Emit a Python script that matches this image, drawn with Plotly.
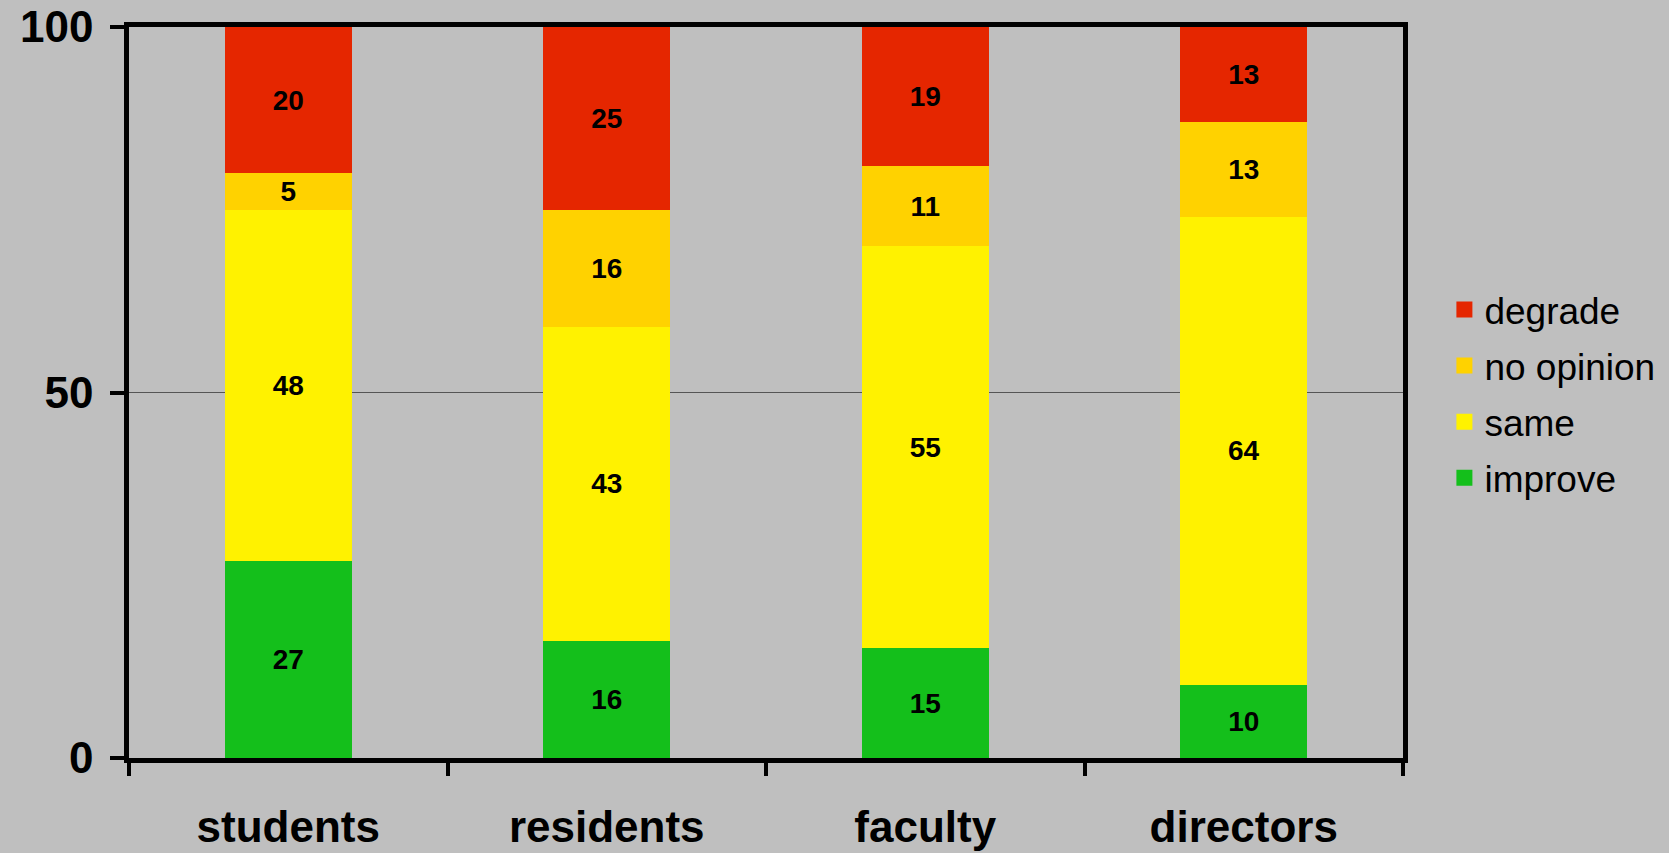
import plotly.graph_objects as go

groups = ["students", "residents", "faculty", "directors"]
improve = [27, 16, 15, 10]
same = [48, 43, 55, 64]
no_opinion = [5, 16, 11, 13]
degrade = [20, 25, 19, 13]

series = [
    ("improve", improve, "#14BF1B"),
    ("same", same, "#FFF200"),
    ("no opinion", no_opinion, "#FFD200"),
    ("degrade", degrade, "#E52600"),
]

FONT = "Liberation Sans, Arial, sans-serif"

fig = go.Figure()
for name, vals, color in series:
    fig.add_trace(go.Bar(
        x=groups, y=vals, name=name,
        marker=dict(color=color, line=dict(width=0)),
        text=[str(v) for v in vals],
        textposition="inside", insidetextanchor="middle", textangle=0,
        textfont=dict(family=FONT, size=28, color="black", weight="bold"),
        showlegend=False,
    ))

# legend entries with larger square swatches
for name, vals, color in reversed(series):
    fig.add_trace(go.Scatter(
        x=[None], y=[None], mode="markers", name=name, legendgroup=name,
        marker=dict(symbol="square", size=19, color=color),
        showlegend=True,
    ))

fig.update_layout(
    width=1669, height=853,
    margin=dict(l=129, r=266, t=27, b=95, autoexpand=False),
    paper_bgcolor="#BFBFBF", plot_bgcolor="#BFBFBF",
    barmode="stack", bargap=0.6,
    uniformtext=dict(minsize=28, mode="show"),
    font=dict(family=FONT, color="black"),
    legend=dict(
        x=1.0325, xanchor="left", y=0.498, yanchor="middle",
        traceorder="grouped", tracegroupgap=5,
        font=dict(family=FONT, size=37, color="black"),
        bgcolor="rgba(0,0,0,0)",
    ),
    xaxis=dict(
        showline=True, linecolor="black", linewidth=4.5, mirror=True,
        ticks="outside", tickson="boundaries", ticklen=13, tickwidth=4,
        tickcolor="black",
        tickfont=dict(family=FONT, size=44, color="black", weight="bold"),
        ticklabelstandoff=26,
        showgrid=False, automargin=False,
    ),
    yaxis=dict(
        range=[0, 100], tickvals=[0, 50, 100],
        showline=True, linecolor="black", linewidth=4.5, mirror=True,
        ticks="outside", ticklen=14, tickwidth=4, tickcolor="black",
        tickfont=dict(family=FONT, size=44, color="black", weight="bold"),
        ticklabelstandoff=8,
        showgrid=True, gridcolor="#555555", gridwidth=1,
        zeroline=False, automargin=False,
    ),
)

fig.write_html("out.html")
